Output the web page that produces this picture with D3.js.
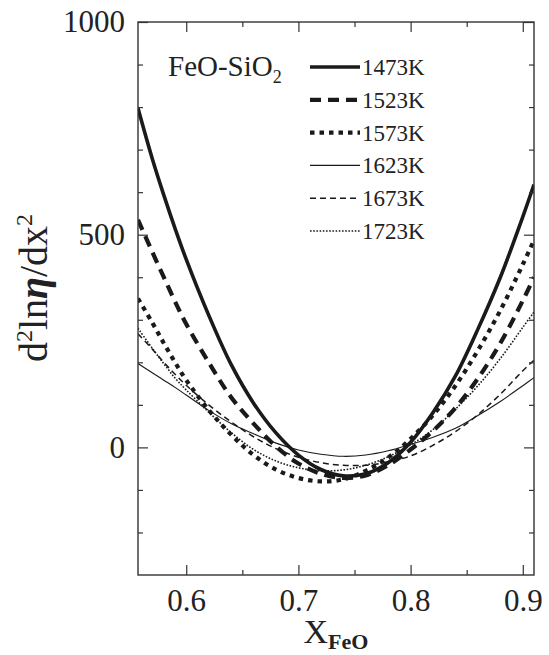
<!DOCTYPE html>
<html>
<head>
<meta charset="utf-8">
<script src="https://cdn.jsdelivr.net/npm/d3@7"></script>
<style>
  body { margin: 0; background: #fff; }
  svg { display: block; }
  text { font-family: "Liberation Serif", "Times New Roman", serif; fill: #222; }
</style>
</head>
<body>
<svg width="549" height="655"></svg>
<script>
// mole fraction of FeO (shared x grid)
const xFeO = [0.557, 0.57, 0.58, 0.59, 0.60, 0.62, 0.64, 0.66, 0.68, 0.70, 0.72,
              0.74, 0.76, 0.78, 0.80, 0.82, 0.84, 0.86, 0.88, 0.90, 0.91];

// d2 ln(eta) / dx2
const t1473 = [797, 676, 593, 515, 442, 311, 195, 104, 34, -18, -52, -67, -62, -36, 12, 82, 168, 278, 400, 542, 618];
const t1523 = [535, 458, 400, 343, 290, 200, 118, 56, 2, -38, -62, -72, -66, -42, -5, 39, 93, 162, 245, 345, 400];
const t1573 = [350, 292, 245, 200, 158, 88, 30, -18, -52, -72, -80, -75, -55, -24, 20, 76, 145, 228, 322, 430, 487];
const t1623 = [197, 175, 158, 141, 123, 87, 56, 32, 10, -6, -16, -21, -18, -8, 7, 24, 45, 75, 108, 145, 164];
const t1673 = [267, 230, 200, 172, 146, 100, 60, 25, -3, -23, -36, -42, -42, -34, -20, 5, 37, 77, 125, 180, 205];
const t1723 = [280, 232, 197, 163, 135, 83, 35, -5, -32, -48, -55, -53, -42, -22, 6, 42, 90, 145, 209, 282, 318];

const seriesValues = [t1473, t1523, t1573, t1623, t1673, t1723];
const tempLabels = ['1473K', '1523K', '1573K', '1623K', '1673K', '1723K'];

const xMajorTicks = [0.6, 0.7, 0.8, 0.9];
const xMinorTicks = [0.65, 0.75, 0.85];
const yMajorTicks = [0, 500, 1000];
const yMinorTicks = [-200, -100, 100, 200, 300, 400, 600, 700, 800, 900];

// line looks, same order as the series
const lineStyles = [
    { w: 3.6, dash: null },
    { w: 4.2, dash: '11,7' },
    { w: 4.2, dash: '4.5,5' },
    { w: 1.1, dash: null },
    { w: 1.5, dash: '6,4' },
    { w: 1.6, dash: '1.6,1.6' }
];

const margin = { top: 22, right: 15, bottom: 80, left: 138 };
const width = 549 - margin.left - margin.right;
const height = 655 - margin.top - margin.bottom;

const svg = d3.select('svg')
    .append('g')
    .attr('transform', 'translate(' + margin.left + ',' + margin.top + ')');

const x = d3.scaleLinear().domain([0.557, 0.91]).range([0, width]);
const y = d3.scaleLinear().domain([-300, 1000]).range([height, 0]);

svg.append('clipPath').attr('id', 'plot')
    .append('rect').attr('width', width).attr('height', height);

/* curves */
seriesValues.forEach((vals, i) => {
    const st = lineStyles[i];
    svg.append('path')
        .datum(xFeO.map((xv, j) => [xv, vals[j]]))
        .attr('clip-path', 'url(#plot)')
        .attr('fill', 'none')
        .attr('stroke', '#1a1a1a')
        .attr('stroke-width', st.w)
        .attr('stroke-dasharray', st.dash)
        .attr('d', d3.line()
            .x(d => x(d[0]))
            .y(d => y(d[1]))
            .curve(d3.curveCatmullRom.alpha(0.5)));
});

/* axes, ticks pointing inward */
function styleAxis(g) {
    g.select('.domain').remove();
    g.selectAll('line').attr('stroke', '#333').attr('stroke-width', 1.2);
    g.selectAll('text').attr('font-size', 31).attr('fill', '#222');
}

svg.append('g').attr('transform', 'translate(0,' + height + ')')
    .call(d3.axisBottom(x).tickValues(xMajorTicks).tickSizeInner(-10).tickSizeOuter(0)
        .tickPadding(14).tickFormat(d3.format('.1f')))
    .call(styleAxis);
svg.append('g').attr('transform', 'translate(0,' + height + ')')
    .call(d3.axisBottom(x).tickValues(xMinorTicks).tickSize(-5).tickFormat(''))
    .call(styleAxis);
svg.append('g')
    .call(d3.axisTop(x).tickValues(xMajorTicks).tickSize(-10).tickFormat(''))
    .call(styleAxis);
svg.append('g')
    .call(d3.axisTop(x).tickValues(xMinorTicks).tickSize(-5).tickFormat(''))
    .call(styleAxis);

svg.append('g')
    .call(d3.axisLeft(y).tickValues(yMajorTicks).tickSizeInner(-10).tickSizeOuter(0)
        .tickPadding(13).tickFormat(d3.format('d')))
    .call(styleAxis);
svg.append('g')
    .call(d3.axisLeft(y).tickValues(yMinorTicks).tickSize(-5).tickFormat(''))
    .call(styleAxis);
svg.append('g').attr('transform', 'translate(' + width + ',0)')
    .call(d3.axisRight(y).tickValues(yMajorTicks).tickSize(-10).tickFormat(''))
    .call(styleAxis);
svg.append('g').attr('transform', 'translate(' + width + ',0)')
    .call(d3.axisRight(y).tickValues(yMinorTicks).tickSize(-5).tickFormat(''))
    .call(styleAxis);

// frame
svg.append('rect')
    .attr('width', width).attr('height', height)
    .attr('fill', 'none').attr('stroke', '#333').attr('stroke-width', 1.4);

/* axis titles */
const xt = svg.append('text')
    .attr('x', width / 2).attr('y', height + 68)
    .attr('text-anchor', 'middle');
xt.append('tspan').attr('font-size', 34).text('X');
xt.append('tspan').attr('font-size', 22).attr('font-weight', 'bold').attr('dy', 6).text('FeO');

const yt = svg.append('text')
    .attr('transform', 'translate(' + (47 - margin.left) + ',' + (288 - margin.top) + ') rotate(-90)')
    .attr('text-anchor', 'middle')
    .attr('font-size', 40);
yt.append('tspan').text('d');
yt.append('tspan').attr('font-size', 24).attr('dy', -15).text('2');
yt.append('tspan').attr('dy', 15).text('ln');
yt.append('tspan').attr('font-style', 'italic').attr('font-weight', 'bold').text('\u03b7');
yt.append('tspan').text('/dx');
yt.append('tspan').attr('font-size', 24).attr('dy', -15).text('2');

/* legend */
const lg = svg.append('g');
const sys = lg.append('text').attr('x', 30).attr('y', 54).attr('font-size', 29);
sys.append('tspan').text('FeO-SiO');
sys.append('tspan').attr('font-size', 18).attr('dy', 7).text('2');

tempLabels.forEach((lab, i) => {
    const st = lineStyles[i];
    const ly = 45 + i * 32.8;
    lg.append('line')
        .attr('x1', 172).attr('x2', 222).attr('y1', ly).attr('y2', ly)
        .attr('stroke', '#1a1a1a')
        .attr('stroke-width', st.w)
        .attr('stroke-dasharray', st.dash);
    lg.append('text')
        .attr('x', 224).attr('y', ly + 8)
        .attr('font-size', 23)
        .text(lab);
});
</script>
</body>
</html>
